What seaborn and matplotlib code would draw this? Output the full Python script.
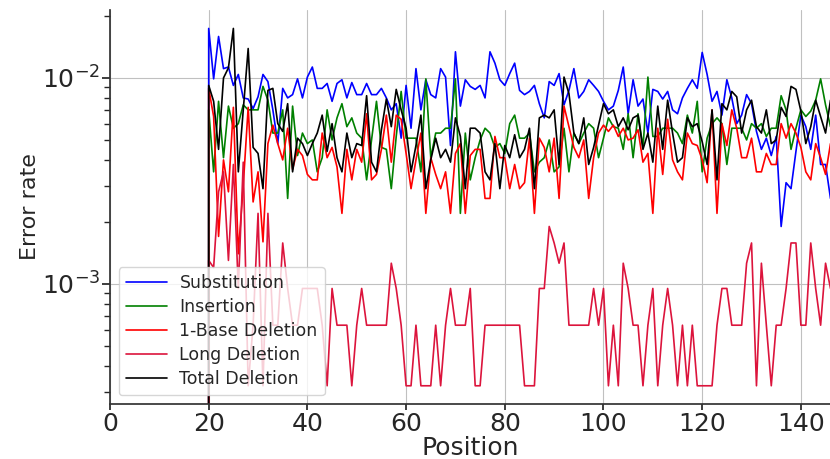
import numpy as np
import pandas as pd
import matplotlib
matplotlib.use("Agg")
import matplotlib.pyplot as plt
import seaborn as sns

# positions 19..146 (first point is zero for every series)
positions = list(range(19, 147))

substitution = [0.0,
    0.0174, 0.0099, 0.0159, 0.0111, 0.0113, 0.0092, 0.0104, 0.0080, 0.0079, 0.0071,
    0.0081, 0.0104, 0.0096, 0.0070, 0.0048, 0.0089, 0.0080, 0.0083, 0.0099, 0.0080,
    0.0101, 0.0113, 0.0089, 0.0089, 0.0094, 0.0077, 0.0094, 0.0098, 0.0080, 0.0095,
    0.0083, 0.0083, 0.0094, 0.0083, 0.0083, 0.0089, 0.0080, 0.0070, 0.0075, 0.0051,
    0.0092, 0.0057, 0.0111, 0.0070, 0.0098, 0.0083, 0.0080, 0.0111, 0.0101, 0.0047,
    0.0134, 0.0073, 0.0098, 0.0091, 0.0088, 0.0092, 0.0080, 0.0134, 0.0118, 0.0098,
    0.0092, 0.0105, 0.0118, 0.0087, 0.0083, 0.0086, 0.0092, 0.0075, 0.0064, 0.0096,
    0.0092, 0.0105, 0.0074, 0.0087, 0.0111, 0.0080, 0.0086, 0.0098, 0.0092, 0.0086,
    0.0077, 0.0070, 0.0073, 0.0087, 0.0113, 0.0067, 0.0098, 0.0073, 0.0079, 0.0054,
    0.0088, 0.0086, 0.0079, 0.0086, 0.0070, 0.0067, 0.0080, 0.0089, 0.0098, 0.0089,
    0.0133, 0.0104, 0.0077, 0.0086, 0.0066, 0.0098, 0.0080, 0.0060, 0.0066, 0.0083,
    0.0075, 0.0055, 0.0045, 0.0051, 0.0042, 0.0052, 0.0019, 0.0031, 0.0029, 0.0044,
    0.0066, 0.0058, 0.0045, 0.0066, 0.0038, 0.0038, 0.0026]

insertion = [0.0,
    0.0070, 0.0035, 0.0077, 0.0041, 0.0073, 0.0057, 0.0060, 0.0074, 0.0070, 0.0070,
    0.0070, 0.0091, 0.0078, 0.0054, 0.0054, 0.0070, 0.0026, 0.0073, 0.0042, 0.0054,
    0.0048, 0.0050, 0.0035, 0.0041, 0.0070, 0.0050, 0.0064, 0.0075, 0.0058, 0.0064,
    0.0054, 0.0051, 0.0032, 0.0050, 0.0077, 0.0046, 0.0045, 0.0029, 0.0052, 0.0086,
    0.0051, 0.0051, 0.0051, 0.0035, 0.0099, 0.0041, 0.0054, 0.0054, 0.0057, 0.0057,
    0.0099, 0.0022, 0.0054, 0.0032, 0.0041, 0.0050, 0.0057, 0.0054, 0.0046, 0.0048,
    0.0043, 0.0060, 0.0066, 0.0051, 0.0051, 0.0054, 0.0035, 0.0039, 0.0041, 0.0050,
    0.0035, 0.0037, 0.0057, 0.0035, 0.0054, 0.0048, 0.0054, 0.0060, 0.0057, 0.0041,
    0.0051, 0.0064, 0.0058, 0.0057, 0.0045, 0.0067, 0.0041, 0.0067, 0.0046, 0.0101,
    0.0052, 0.0052, 0.0057, 0.0057, 0.0057, 0.0054, 0.0048, 0.0066, 0.0054, 0.0077,
    0.0035, 0.0051, 0.0060, 0.0064, 0.0060, 0.0038, 0.0057, 0.0057, 0.0057, 0.0050,
    0.0060, 0.0057, 0.0060, 0.0052, 0.0057, 0.0057, 0.0082, 0.0070, 0.0045, 0.0057,
    0.0070, 0.0065, 0.0069, 0.0078, 0.0099, 0.0074, 0.0058]

base1_deletion = [0.0,
    0.0089, 0.0065, 0.0017, 0.0040, 0.0028, 0.0072, 0.0014, 0.0030, 0.0072, 0.0025,
    0.0035, 0.0016, 0.0048, 0.0059, 0.0048, 0.0040, 0.0057, 0.0036, 0.0045, 0.0042,
    0.0034, 0.0032, 0.0032, 0.0054, 0.0041, 0.0046, 0.0037, 0.0022, 0.0045, 0.0032,
    0.0045, 0.0039, 0.0067, 0.0032, 0.0034, 0.0045, 0.0066, 0.0039, 0.0066, 0.0063,
    0.0043, 0.0029, 0.0040, 0.0054, 0.0022, 0.0041, 0.0034, 0.0029, 0.0035, 0.0022,
    0.0043, 0.0048, 0.0022, 0.0042, 0.0045, 0.0045, 0.0026, 0.0026, 0.0052, 0.0041,
    0.0041, 0.0029, 0.0038, 0.0029, 0.0031, 0.0051, 0.0022, 0.0051, 0.0046, 0.0035,
    0.0051, 0.0026, 0.0073, 0.0058, 0.0046, 0.0041, 0.0050, 0.0026, 0.0041, 0.0054,
    0.0059, 0.0055, 0.0059, 0.0052, 0.0057, 0.0050, 0.0051, 0.0056, 0.0039, 0.0043,
    0.0022, 0.0057, 0.0034, 0.0063, 0.0040, 0.0035, 0.0032, 0.0054, 0.0048, 0.0047,
    0.0040, 0.0031, 0.0070, 0.0022, 0.0060, 0.0047, 0.0070, 0.0057, 0.0041, 0.0041,
    0.0051, 0.0035, 0.0035, 0.0043, 0.0038, 0.0038, 0.0060, 0.0051, 0.0060, 0.0054,
    0.0046, 0.0035, 0.0032, 0.0048, 0.0041, 0.0034, 0.0048]

long_deletion = [0.0,
    0.0013, 0.0012, 0.0028, 0.0035, 0.0013, 0.0038, 0.00095, 0.0039, 0.00032, 0.00063,
    0.0022, 0.00032, 0.0022, 0.00063, 0.00063, 0.00158, 0.00095, 0.00063, 0.00063, 0.00095,
    0.00095, 0.00095, 0.00095, 0.00063, 0.00032, 0.00095, 0.00063, 0.00063, 0.00063, 0.00032,
    0.00063, 0.00095, 0.00063, 0.00063, 0.00063, 0.00063, 0.00063, 0.00126, 0.00095, 0.00063,
    0.00032, 0.00032, 0.00063, 0.00032, 0.00032, 0.00032, 0.00063, 0.00032, 0.00063, 0.00095,
    0.00063, 0.00063, 0.00063, 0.00095, 0.00032, 0.00032, 0.00063, 0.00063, 0.00063, 0.00063,
    0.00063, 0.00063, 0.00063, 0.00063, 0.00032, 0.00032, 0.00032, 0.00095, 0.00095, 0.0019,
    0.00158, 0.00126, 0.00158, 0.00063, 0.00063, 0.00063, 0.00063, 0.00063, 0.00095, 0.00063,
    0.00095, 0.00032, 0.00063, 0.00032, 0.00126, 0.00095, 0.00063, 0.00063, 0.00032, 0.00063,
    0.00095, 0.00032, 0.00063, 0.00095, 0.00063, 0.00032, 0.00063, 0.00032, 0.00063, 0.00032,
    0.00032, 0.00032, 0.00032, 0.00063, 0.00095, 0.00095, 0.00063, 0.00063, 0.00063, 0.00126,
    0.00158, 0.00032, 0.00126, 0.00063, 0.00032, 0.00063, 0.00063, 0.00095, 0.00158, 0.00158,
    0.00063, 0.00063, 0.00158, 0.00095, 0.00063, 0.00126, 0.00095]

total_deletion = [0.0,
    0.0092, 0.0077, 0.0045, 0.0100, 0.0112, 0.0174, 0.0035, 0.0070, 0.0139, 0.0046,
    0.0043, 0.0029, 0.0087, 0.0089, 0.0060, 0.0055, 0.0075, 0.0035, 0.0051, 0.0048,
    0.0042, 0.0048, 0.0054, 0.0066, 0.0044, 0.0060, 0.0041, 0.0035, 0.0054, 0.0041,
    0.0048, 0.0047, 0.0082, 0.0039, 0.0035, 0.0056, 0.0079, 0.0058, 0.0088, 0.0070,
    0.0057, 0.0035, 0.0047, 0.0066, 0.0029, 0.0040, 0.0051, 0.0041, 0.0045, 0.0039,
    0.0064, 0.0052, 0.0029, 0.0057, 0.0057, 0.0054, 0.0035, 0.0032, 0.0048, 0.0029,
    0.0047, 0.0041, 0.0053, 0.0041, 0.0045, 0.0057, 0.0029, 0.0064, 0.0066, 0.0064,
    0.0070, 0.0038, 0.0101, 0.0084, 0.0054, 0.0048, 0.0064, 0.0038, 0.0046, 0.0059,
    0.0075, 0.0067, 0.0070, 0.0058, 0.0064, 0.0056, 0.0064, 0.0066, 0.0045, 0.0054,
    0.0039, 0.0073, 0.0045, 0.0078, 0.0054, 0.0039, 0.0041, 0.0064, 0.0058, 0.0060,
    0.0049, 0.0038, 0.0070, 0.0032, 0.0075, 0.0070, 0.0086, 0.0081, 0.0054, 0.0070,
    0.0078, 0.0058, 0.0054, 0.0070, 0.0048, 0.0050, 0.0072, 0.0065, 0.0091, 0.0088,
    0.0069, 0.0048, 0.0058, 0.0078, 0.0065, 0.0054, 0.0078]

SERIES = ["Substitution", "Insertion", "1-Base Deletion", "Long Deletion", "Total Deletion"]
COLORS = {"Substitution": "blue", "Insertion": "green", "1-Base Deletion": "red",
          "Long Deletion": "crimson", "Total Deletion": "black"}


def build_frame():
    values = [substitution, insertion, base1_deletion, long_deletion, total_deletion]
    frames = []
    for name, vals in zip(SERIES, values):
        frames.append(pd.DataFrame({"Position": positions, "rate": vals, "type": name}))
    return pd.concat(frames, ignore_index=True)


def main():
    sns.set_theme(style="ticks")
    plt.rcParams.update({
        "font.family": ["DejaVu Sans"],
        "xtick.labelsize": 18,
        "ytick.labelsize": 18,
        "axes.labelsize": 18,
        "axes.edgecolor": "#333333",
        "xtick.major.size": 4,
        "xtick.major.pad": 2,
        "ytick.major.pad": 1,
    })

    df = build_frame()

    fig = plt.figure(figsize=(8.3, 4.59), dpi=100)
    ax = fig.add_axes([110 / 830, 55 / 459, 720 / 830, 394 / 459])

    sns.lineplot(data=df, x="Position", y="rate", hue="type", hue_order=SERIES,
                 palette=COLORS, estimator=None, linewidth=1.2, ax=ax)

    ax.set_yscale("log")
    ax.set_xlim(0, 145.9)
    ax.set_ylim(2.61e-4, 0.02138)
    ax.set_xticks([0, 20, 40, 60, 80, 100, 120, 140])
    ax.set_xlabel("Position", labelpad=0)
    ax.set_ylabel("Error rate", fontsize=16, labelpad=1)
    ax.grid(True, which="major", color="#c0c0c0", lw=0.8)
    sns.despine(ax=ax)

    handles, labels = ax.get_legend_handles_labels()
    ax.legend(handles=handles, labels=labels, loc="lower left", fontsize=12.5,
              handlelength=2.4, handletextpad=0.7, labelspacing=0.35,
              framealpha=0.8)

    fig.savefig("out.png", dpi=100)
    plt.close(fig)


if __name__ == "__main__":
    main()
